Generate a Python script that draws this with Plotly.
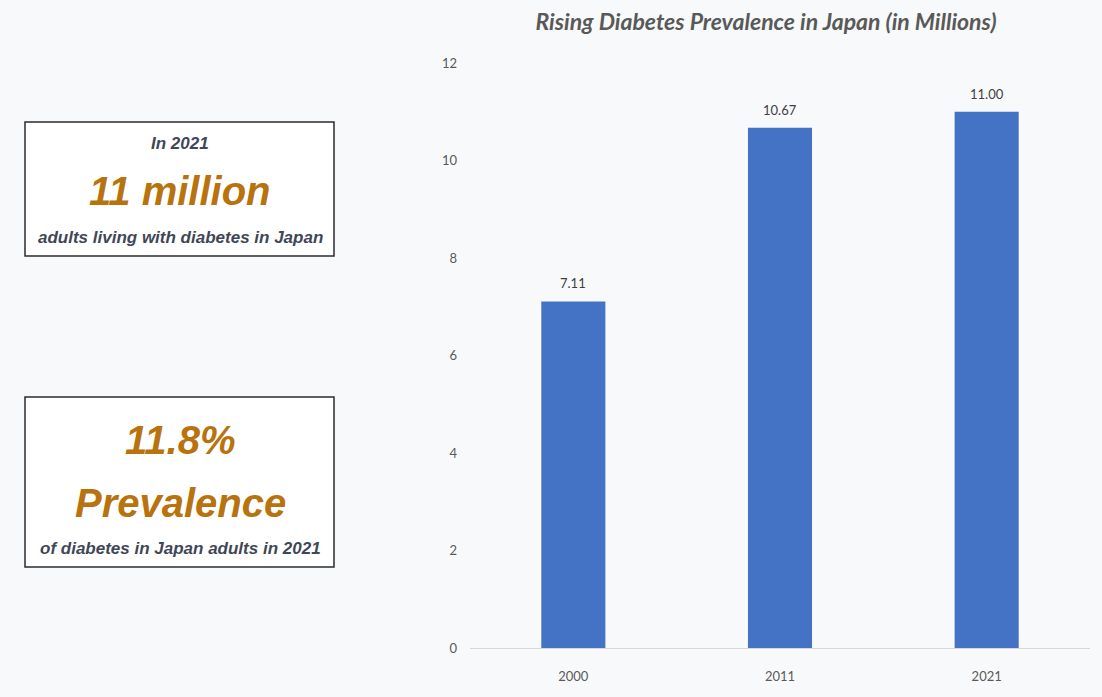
import plotly.graph_objects as go

# 数据
years = ["2000", "2011", "2021"]
adults_millions = [7.11, 10.67, 11.00]
y_ticks = [0, 2, 4, 6, 8, 10, 12]

W, H = 1102, 697
ML, MR, MT, MB = 0, 12, 63, 49
PW = W - ML - MR
PH = H - MT - MB
BG = "#f8f9fa"


def px_x(x):
    return (x - ML) / PW


def px_y(y):
    return (H - MB - y) / PH


GOLD = "#b8720e"
SLATE = "#3f4757"
SANS = "Liberation Sans, Arial"

fig = go.Figure(go.Bar(
    x=years,
    y=adults_millions,
    marker=dict(color="#4472c4", line=dict(width=0)),
    hoverinfo="skip",
))

# 柱顶数值 (类别轴上用序号定位)
for i, v in enumerate(adults_millions):
    fig.add_annotation(
        x=i, y=v, text=f"{v:.2f}", showarrow=False,
        yanchor="middle", yshift=18,
        font=dict(size=13, color="#404040", family="Lato, Open Sans"),
    )

# 左侧两个信息框
fig.add_shape(type="rect", xref="paper", yref="paper",
              x0=px_x(25), x1=px_x(334), y0=px_y(256), y1=px_y(122),
              fillcolor="white", line=dict(color="#2b2b2b", width=1.5), layer="below")
fig.add_shape(type="rect", xref="paper", yref="paper",
              x0=px_x(25), x1=px_x(334), y0=px_y(567), y1=px_y(397),
              fillcolor="white", line=dict(color="#2b2b2b", width=1.5), layer="below")

notes = [
    ("In 2021", 144, 17, SLATE),
    ("11 million", 191, 40, GOLD),
    ("adults living with diabetes in Japan", 237, 17, SLATE),
    ("11.8%", 440, 40, GOLD),
    ("Prevalence", 503, 40, GOLD),
    ("of diabetes in Japan adults in 2021", 548, 17, SLATE),
]
for txt, y, size, col in notes:
    fig.add_annotation(
        text=f"<b><i>{txt}</i></b>", xref="paper", yref="paper",
        x=px_x(180), y=px_y(y), xanchor="center", yanchor="middle",
        showarrow=False, font=dict(size=size, color=col, family=SANS),
    )

fig.update_layout(
    width=W, height=H,
    margin=dict(l=ML, r=MR, t=MT, b=MB, autoexpand=False),
    paper_bgcolor=BG,
    plot_bgcolor=BG,
    showlegend=False,
    bargap=0.69,
    title=dict(
        text="<b><i>Rising Diabetes Prevalence in Japan (in Millions)</i></b>",
        x=766 / W, xanchor="center", y=1 - 22 / H, yanchor="middle",
        xref="container", yref="container",
        font=dict(size=23, color="#595959", family="Lato, Open Sans"),
    ),
    xaxis=dict(
        type="category", range=[-0.5, 2.5],
        domain=[px_x(470), 1],
        showline=True, linecolor="#d9d9d9", linewidth=1,
        ticks="", ticklabelstandoff=16,
        tickfont=dict(size=13, color="#595959", family="Lato, Open Sans"),
    ),
    yaxis=dict(
        range=[0, 12], tickvals=y_ticks,
        showgrid=False, zeroline=False, showline=False,
        ticks="", ticklabelstandoff=12,
        tickfont=dict(size=13, color="#595959", family="Lato, Open Sans"),
    ),
)

# 去掉页面默认边距，让图贴满窗口
fig.write_html(
    "out.html",
    config={"displayModeBar": False},
    post_script=f"document.body.style.margin='0';document.body.style.background='{BG}';",
)
